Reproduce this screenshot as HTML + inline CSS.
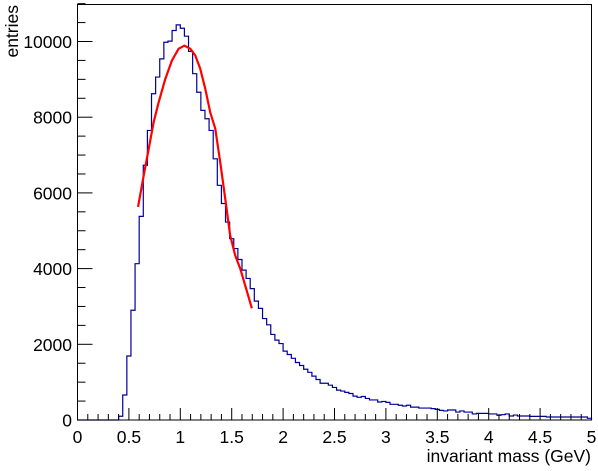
<!DOCTYPE html>
<html><head><meta charset="utf-8"><style>
html,body{margin:0;padding:0;background:#fff;}
svg{display:block;font-family:"Liberation Sans",sans-serif;}
</style></head><body>
<svg id="chart" width="598" height="471" viewBox="0 0 598 471" xmlns="http://www.w3.org/2000/svg">
<g id="plot"></g>
</svg>
<script>
const binLow = 0, binWidth = 0.04;
const counts = [0,0,0,0,0,0,0,0,0,0,100,660,1690,2900,4130,5380,6730,7650,8620,9060,9540,9980,10010,10290,10440,10350,10140,9740,9150,8660,8180,7960,7650,6900,6200,5720,5230,4790,4530,4240,3960,3740,3470,3140,2950,2680,2515,2260,2110,2020,1820,1730,1630,1520,1440,1340,1260,1160,1070,970,970,920,860,790,765,730,700,630,600,620,570,530,530,475,490,465,415,415,390,370,390,340,340,315,315,315,300,280,255,240,265,265,210,240,210,210,160,175,175,175,160,160,125,140,160,105,130,105,105,105,95,95,95,95,80,80,80,80,80,80,80,80,80,80,45];
const fitX = [0.589,0.644,0.693,0.741,0.790,0.854,0.919,0.984,1.039,1.097,1.146,1.194,1.243,1.291,1.340,1.388,1.437,1.485,1.534,1.583,1.631,1.696];
const fitY = [5630,6460,7170,7870,8400,9010,9500,9810,9890,9810,9630,9280,8750,8130,7700,6820,5850,4880,4350,4000,3560,2950];
const xTicks = [0,0.5,1,1.5,2,2.5,3,3.5,4,4.5,5];
const yTicks = [0,2000,4000,6000,8000,10000];

const L=77.5,R=591.5,T=4.5,B=420;
const xMin=0,xMax=5,yMin=0;
const sx=v=>L+(v-xMin)/(xMax-xMin)*(R-L);
const sy=v=>B-(v-yMin)/(10000)*(B-41.5);
const NS="http://www.w3.org/2000/svg";
const g=document.getElementById('plot');
function mk(tag,attrs){const e=document.createElementNS(NS,tag);for(const k in attrs)e.setAttribute(k,attrs[k]);g.appendChild(e);return e;}

let d="M"+sx(binLow)+","+sy(0);
counts.forEach((c,i)=>{const x0=sx(binLow+i*binWidth),x1=sx(binLow+(i+1)*binWidth);d+=" L"+x0+","+sy(c)+" L"+x1+","+sy(c);});
d+=" L"+sx(binLow+counts.length*binWidth)+","+sy(0);
const h=mk('path',{d:d,fill:'none',stroke:'#000099','stroke-width':1.2});



const fp=mk('polyline',{points:fitX.map((x,i)=>sx(x)+","+sy(fitY[i])).join(" "),fill:'none',stroke:'#ff0000','stroke-width':2.2,'stroke-linejoin':'round'});



const fr=mk('rect',{x:L,y:T,width:R-L,height:B-T,fill:'none',stroke:'#000','stroke-width':1});



for(let i=0;i<=50;i++){const v=i*0.1;const maj=(i%5===0);
 const t=mk('line',{x1:sx(v),x2:sx(v),y1:B,y2:B-(maj?12:6),stroke:'#000','stroke-width':1});
 
 }
xTicks.forEach(v=>{const t=mk('text',{x:sx(v),y:443,'font-size':17.5,'text-anchor':'middle'});t.textContent=String(v);
 
 });
for(let v=0;v<=11000;v+=500){const maj=(v%2000===0);
 const t=mk('line',{x1:L,x2:L+(maj?15:8),y1:sy(v),y2:sy(v),stroke:'#000','stroke-width':1});
 
 }
yTicks.forEach(v=>{const t=mk('text',{x:72,y:sy(v)+6.5,'font-size':17.5,'text-anchor':'end'});t.textContent=String(v);
 
 });

const xt=mk('text',{x:591,y:462,'font-size':17.5,'text-anchor':'end'});xt.textContent='invariant mass (GeV)';


const yt=mk('text',{x:0,y:0,'font-size':17.5,'text-anchor':'end',transform:'translate(18,5) rotate(-90)'});yt.textContent='entries';


</script>
</body></html>
